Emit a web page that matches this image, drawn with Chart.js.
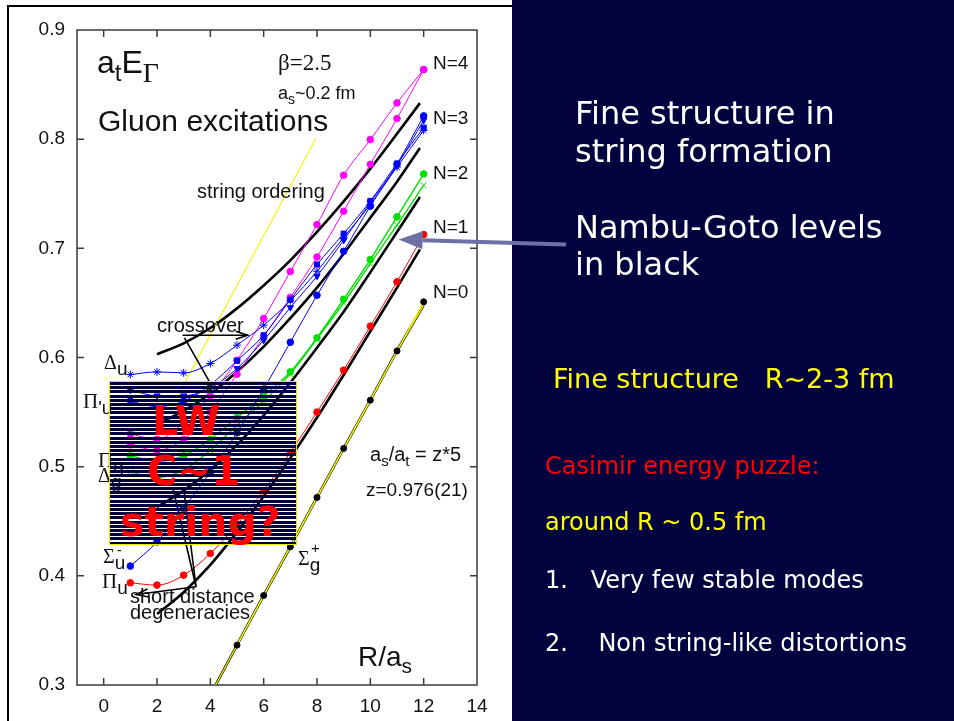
<!DOCTYPE html>
<html><head><meta charset="utf-8">
<script src="https://cdn.jsdelivr.net/npm/chart.js@4.4.1/dist/chart.umd.min.js"></script>
<style>
body{margin:0;width:954px;height:721px;overflow:hidden;position:relative;background:#fff;}
.abs{position:absolute;white-space:nowrap;line-height:1;}
.sans{font-family:"Liberation Sans",Arial,sans-serif;color:#111;}
.serif{font-family:"Liberation Serif","Times New Roman",serif;color:#111;}
#navy{position:absolute;left:512px;top:0;width:442px;height:721px;background:#02023f;}
#frame{position:absolute;left:7px;top:5px;width:503px;height:740px;border-top:2px solid #000;border-left:2px solid #000;}
#c{position:absolute;left:0;top:0;z-index:1;}
.lab{z-index:2;}
#lw{position:absolute;left:109px;top:381px;width:186px;height:162px;border:1px solid #e8e800;z-index:3;
 background:repeating-linear-gradient(to bottom,#02023f 0px,#02023f 3px,rgba(255,255,255,0) 3px,rgba(255,255,255,0) 4.2px);}
.lwt{position:absolute;font-family:"DejaVu Sans",Verdana,sans-serif;font-weight:bold;font-size:41px;color:#ff0000;line-height:1;white-space:nowrap;}
.rt{position:absolute;z-index:2;font-family:"DejaVu Sans",Verdana,sans-serif;line-height:1;white-space:pre;}
</style></head><body>
<div id="navy"></div>
<div id="frame"></div>
<canvas id="c" width="954" height="721"></canvas>

<!-- plot annotations -->
<div class="abs lab sans" style="left:97px;top:46px;font-size:32px;">a<span style="font-size:24px;position:relative;top:8px;">t</span>E<span class="serif" style="font-size:28px;position:relative;top:9px;">Γ</span></div>
<div class="abs lab serif" style="left:278px;top:51px;font-size:23px;">β=2.5</div>
<div class="abs lab sans" style="left:278px;top:84px;font-size:18px;">a<span style="font-size:14px;position:relative;top:5px;">s</span>~0.2 fm</div>
<div class="abs lab sans" style="left:98px;top:106px;font-size:30px;">Gluon excitations</div>
<div class="abs lab sans" style="left:433px;top:53px;font-size:19px;">N=4</div>
<div class="abs lab sans" style="left:433px;top:108px;font-size:19px;">N=3</div>
<div class="abs lab sans" style="left:433px;top:163px;font-size:19px;">N=2</div>
<div class="abs lab sans" style="left:433px;top:217px;font-size:19px;">N=1</div>
<div class="abs lab sans" style="left:433px;top:282px;font-size:19px;">N=0</div>
<div class="abs lab sans" style="left:197px;top:181px;font-size:20px;">string ordering</div>
<div class="abs lab sans" style="left:157px;top:315px;font-size:20px;">crossover</div>
<div class="abs lab" style="left:104px;top:352px;"><span class="serif" style="font-size:20px;">Δ</span><span class="sans" style="font-size:19px;position:relative;top:6px;">u</span></div>
<div class="abs lab" style="left:83px;top:391px;"><span class="serif" style="font-size:21px;">Π</span><span class="sans" style="font-size:19px;position:relative;top:6px;">'u</span></div>
<div class="abs lab" style="left:98px;top:450px;"><span class="serif" style="font-size:21px;">Π</span><span class="sans" style="font-size:19px;position:relative;top:6px;">g</span></div>
<div class="abs lab" style="left:98px;top:465px;"><span class="serif" style="font-size:20px;">Δ</span><span class="sans" style="font-size:19px;position:relative;top:6px;">g</span></div>
<div class="abs lab" style="left:103px;top:546px;"><span class="serif" style="font-size:20px;">Σ</span><span class="sans" style="font-size:19px;position:relative;top:6px;">u</span></div>
<div class="abs lab sans" style="left:117px;top:543px;font-size:14px;">-</div>
<div class="abs lab" style="left:102px;top:571px;"><span class="serif" style="font-size:21px;">Π</span><span class="sans" style="font-size:19px;position:relative;top:6px;">u</span></div>
<div class="abs lab sans" style="left:130px;top:588px;font-size:20px;line-height:16px;">short distance<br>degeneracies</div>
<div class="abs lab" style="left:298px;top:548px;"><span class="serif" style="font-size:20px;">Σ</span><span class="sans" style="font-size:19px;position:relative;top:6px;">g</span></div>
<div class="abs lab sans" style="left:311px;top:540px;font-size:15px;">+</div>
<div class="abs lab sans" style="left:370px;top:444px;font-size:20px;">a<span style="font-size:15px;position:relative;top:5px;">s</span>/a<span style="font-size:15px;position:relative;top:5px;">t</span> = z*5</div>
<div class="abs lab sans" style="left:366px;top:480px;font-size:19px;">z=0.976(21)</div>
<div class="abs lab sans" style="left:358px;top:643px;font-size:28px;">R/a<span style="font-size:21px;position:relative;top:7px;">s</span></div>

<div id="lw">
 <div class="lwt" style="left:42px;top:19px;">LW</div>
 <div class="lwt" style="left:37px;top:69px;">C~1</div>
 <div class="lwt" style="left:10px;top:120px;">string?</div>
</div>

<!-- right panel -->
<div class="rt" style="left:575px;top:97px;font-size:32px;color:#fff;">Fine structure in</div>
<div class="rt" style="left:575px;top:135px;font-size:32px;color:#fff;">string formation</div>
<div class="rt" style="left:575px;top:211px;font-size:32px;color:#fff;">Nambu-Goto levels</div>
<div class="rt" style="left:575px;top:248px;font-size:32px;color:#fff;">in black</div>
<div class="rt" style="left:553px;top:365px;font-size:27px;color:#ffff00;">Fine structure   R~2-3 fm</div>
<div class="rt" style="left:545px;top:454px;font-size:24px;color:#ff0000;">Casimir energy puzzle:</div>
<div class="rt" style="left:545px;top:510px;font-size:24px;color:#ffff00;">around R ~ 0.5 fm</div>
<div class="rt" style="left:545px;top:568px;font-size:24px;color:#fff;">1.   Very few stable modes</div>
<div class="rt" style="left:545px;top:631px;font-size:24px;color:#fff;">2.    Non string-like distortions</div>

<script>
// ---- tick labels ----
const xTicks = [0, 2, 4, 6, 8, 10, 12, 14];
const yTicks = [0.3, 0.4, 0.5, 0.6, 0.7, 0.8, 0.9];

// ---- lattice data: R/a_s and a_t E ----
const R = [1, 2, 3, 4, 5, 6, 7, 8, 9, 10, 11, 12];
const piU     = [0.3936, 0.3915, 0.4006, 0.4205, 0.447, 0.478, 0.513, 0.550, 0.5884, 0.6287, 0.6693, 0.7126];
const sigmaUm = [0.4089, 0.4311, 0.462, 0.495, 0.531, 0.571, 0.614, 0.657, 0.6973, 0.7386, 0.777, 0.8213];
const deltaU  = [0.5844, 0.5868, 0.5859, 0.5945, 0.6113, 0.6296, 0.652, 0.679, 0.710, 0.740, 0.7745, 0.808];
const piUp    = [0.560, 0.555, 0.560, 0.575, 0.597, 0.6204, 0.653, 0.6852, 0.7135, 0.7434, 0.7777, 0.8106];
const sigmaUp = [0.570, 0.565, 0.565, 0.572, 0.590, 0.6158, 0.6458, 0.6745, 0.7074, 0.742, 0.776, 0.8173];
const piG     = [0.510, 0.505, 0.510, 0.525, 0.545, 0.565, 0.5868, 0.618, 0.6534, 0.6897, 0.7288, 0.7681];
const deltaG  = [0.495, 0.490, 0.497, 0.515, 0.538, 0.560, 0.585, 0.617, 0.650, 0.686, 0.7212, 0.7578];
const magA    = [0.530, 0.525, 0.540, 0.565, 0.5975, 0.6357, 0.6788, 0.7218, 0.767, 0.7996, 0.8332, 0.8637];
const magB    = [0.520, 0.515, 0.525, 0.550, 0.5847, 0.619, 0.655, 0.692, 0.734, 0.777, 0.8189, 0.8637];
const n0R = [5, 6, 7, 8, 9, 10, 11, 12];
const n0E = [0.3365, 0.382, 0.4266, 0.4718, 0.5167, 0.5609, 0.606, 0.651];

// ---- Nambu-Goto levels (black) ----
const ng0R = [4.2, 5, 6, 7, 8, 9, 10, 11, 12];
const ng0E = [0.300, 0.3365, 0.382, 0.4266, 0.4718, 0.5167, 0.5609, 0.606, 0.648];
const ngR = [2, 3, 4, 5, 6, 7, 8, 9, 10, 11, 11.86];
const ng1 = [0.365, 0.385, 0.410, 0.440, 0.473, 0.508, 0.545, 0.584, 0.624, 0.664, 0.699];
const ng2 = [0.463, 0.478, 0.497, 0.520, 0.547, 0.577, 0.609, 0.642, 0.678, 0.715, 0.747];
const ng3 = [0.539, 0.551, 0.567, 0.587, 0.610, 0.636, 0.664, 0.695, 0.728, 0.761, 0.792];
const ng4 = [0.603, 0.613, 0.627, 0.645, 0.666, 0.689, 0.715, 0.743, 0.773, 0.805, 0.833];
// string ordering guide line
const soR = [2.7, 7.96];
const soE = [0.5616, 0.8006];

// ---- annotation arrows, in data coordinates ----
const crossArrow = [[2.96, 0.6204], [5.40, 0.6204]];
const crossLine  = [[3.03, 0.618], [3.97, 0.5777]];
const sdArrow    = [[3.464, 0.390], [1.215, 0.3829]];
const sdLine1    = [[3.464, 0.390], [2.6, 0.48]];
const sdLine2    = [[3.464, 0.390], [3.0, 0.48]];
const bigArrow   = [[17.34, 0.7035], [11.06, 0.708]];

const pts = (xs, ys) => xs.map((v, i) => ({x: v, y: ys[i]}));

function ser(data, color, style, extra) {
  return Object.assign({
    data, showLine: true, borderColor: color, backgroundColor: color,
    borderWidth: 1, pointStyle: style, pointRadius: 3.3, pointBorderWidth: 1,
    pointBorderColor: color, pointBackgroundColor: color,
    cubicInterpolationMode: 'monotone'
  }, extra || {});
}
function ngSer(data) {
  return {data, showLine: true, borderColor: '#000', borderWidth: 2.6, pointRadius: 0,
          cubicInterpolationMode: 'monotone'};
}

const datasets = [
  // top-most first
  ser(pts(n0R, n0E), '#000', 'circle', {borderColor: '#f0f000', borderWidth: 1.3, pointRadius: 3}),
  {data: pts(ng0R, ng0E), showLine: true, borderColor: '#f0f000', borderWidth: 1.3, pointRadius: 0},
  ser(pts(R, piU), '#ff0000', 'circle'),
  ser(pts(R, sigmaUm), '#0000ff', 'circle'),
  ser(pts(R, deltaU), '#0000ff', 'star', {pointRadius: 4}),
  ser(pts(R, piUp), '#0000ff', 'rect', {pointRadius: 3.6}),
  ser(pts(R, sigmaUp), '#0000ff', 'triangle', {rotation: 180, pointRadius: 3.6}),
  ser(pts(R, piG), '#00e000', 'circle', {borderWidth: 1.4}),
  ser(pts(R, deltaG), '#00e000', 'crossRot', {pointRadius: 4, borderWidth: 1.4}),
  ser(pts(R, magA), '#ff00ff', 'circle'),
  ser(pts(R, magB), '#ff00ff', 'circle'),
  {data: pts(soR, soE), showLine: true, borderColor: '#f5f500', borderWidth: 1.2, pointRadius: 0},
  ngSer(pts(ng0R, ng0E)),
  ngSer(pts(ngR, ng1)),
  ngSer(pts(ngR, ng2)),
  ngSer(pts(ngR, ng3)),
  ngSer(pts(ngR, ng4)),
];

const framePlugin = {
  id: 'frame',
  beforeDatasetsDraw(chart) {
    const {ctx, chartArea: a, scales: {x, y}} = chart;
    ctx.save();
    ctx.strokeStyle = '#3a3a3a'; ctx.lineWidth = 1.5;
    ctx.strokeRect(a.left, a.top, a.right - a.left, a.bottom - a.top);
    ctx.beginPath();
    xTicks.forEach(v => {
      const px = x.getPixelForValue(v);
      if (px > a.left + 1 && px < a.right - 1) {
        ctx.moveTo(px, a.bottom); ctx.lineTo(px, a.bottom - 7);
        ctx.moveTo(px, a.top); ctx.lineTo(px, a.top + 7);
      }
    });
    yTicks.forEach(v => {
      const py = y.getPixelForValue(v);
      if (py > a.top + 1 && py < a.bottom - 1) {
        ctx.moveTo(a.left, py); ctx.lineTo(a.left + 7, py);
        ctx.moveTo(a.right, py); ctx.lineTo(a.right - 7, py);
      }
    });
    ctx.stroke();
    ctx.restore();
  }
};

const annPlugin = {
  id: 'ann',
  afterDraw(chart) {
    const {ctx, scales: {x, y}} = chart;
    const P = p => [x.getPixelForValue(p[0]), y.getPixelForValue(p[1])];
    ctx.save();
    function seg(s, color, w) {
      const a = P(s[0]), b = P(s[1]);
      ctx.strokeStyle = color; ctx.lineWidth = w;
      ctx.beginPath(); ctx.moveTo(a[0], a[1]); ctx.lineTo(b[0], b[1]); ctx.stroke();
    }
    function vhead(s, color, w, len, half) {
      const a = P(s[0]), b = P(s[1]);
      const ang = Math.atan2(b[1] - a[1], b[0] - a[0]);
      ctx.strokeStyle = color; ctx.lineWidth = w;
      ctx.beginPath();
      ctx.moveTo(b[0] - len * Math.cos(ang) + half * Math.sin(ang), b[1] - len * Math.sin(ang) - half * Math.cos(ang));
      ctx.lineTo(b[0], b[1]);
      ctx.lineTo(b[0] - len * Math.cos(ang) - half * Math.sin(ang), b[1] - len * Math.sin(ang) + half * Math.cos(ang));
      ctx.stroke();
    }
    seg(crossArrow, '#000', 1.6); vhead(crossArrow, '#000', 1.6, 12, 4);
    seg(crossLine, '#000', 1.6);
    seg(sdArrow, '#000', 1.6); vhead(sdArrow, '#000', 1.6, 12, 4);
    seg(sdLine1, '#000', 1.6);
    seg(sdLine2, '#000', 1.6);
    // big slate arrow
    const a = P(bigArrow[0]), b = P(bigArrow[1]);
    const ang = Math.atan2(b[1] - a[1], b[0] - a[0]);
    const len = 24, half = 9;
    ctx.strokeStyle = '#6d70a4'; ctx.fillStyle = '#6d70a4'; ctx.lineWidth = 4;
    ctx.beginPath(); ctx.moveTo(a[0], a[1]);
    ctx.lineTo(b[0] - len * Math.cos(ang), b[1] - len * Math.sin(ang)); ctx.stroke();
    ctx.beginPath();
    ctx.moveTo(b[0], b[1]);
    ctx.lineTo(b[0] - len * Math.cos(ang) + half * Math.sin(ang), b[1] - len * Math.sin(ang) - half * Math.cos(ang));
    ctx.lineTo(b[0] - len * Math.cos(ang) - half * Math.sin(ang), b[1] - len * Math.sin(ang) + half * Math.cos(ang));
    ctx.closePath(); ctx.fill();
    ctx.restore();
  }
};

new Chart(document.getElementById('c'), {
  type: 'scatter',
  data: {datasets},
  options: {
    responsive: false, animation: false, devicePixelRatio: 1,
    layout: {padding: {left: 0, right: 477, top: 30, bottom: 0}},
    plugins: {legend: {display: false}, tooltip: {enabled: false}},
    scales: {
      x: {
        type: 'linear', min: -1, max: 14,
        afterFit: s => { s.height = 36; },
        afterBuildTicks: s => { s.ticks = xTicks.map(v => ({value: v})); },
        grid: {display: false, drawTicks: false}, border: {display: false},
        ticks: {color: '#111', padding: 10, font: {family: 'Liberation Sans', size: 19}, maxRotation: 0}
      },
      y: {
        type: 'linear', min: 0.3, max: 0.9,
        afterFit: s => { s.width = 77; },
        afterBuildTicks: s => { s.ticks = yTicks.map(v => ({value: v})); },
        grid: {display: false, drawTicks: false}, border: {display: false},
        ticks: {color: '#111', padding: 12, font: {family: 'Liberation Sans', size: 19},
                callback: v => v.toFixed(1)}
      }
    }
  },
  plugins: [framePlugin, annPlugin]
});
</script>
</body></html>
